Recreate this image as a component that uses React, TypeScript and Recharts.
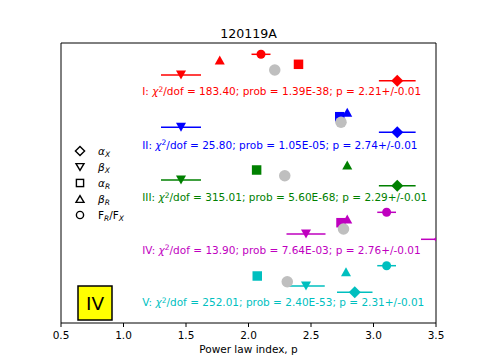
import { ComposedChart, ErrorBar, ReferenceArea, Scatter, XAxis, YAxis } from "recharts";

// fit groups, drawn top to bottom
const groupNames = ["I", "II", "III", "IV", "V"];
const groupColors = ["#ff0000", "#0000ff", "#008000", "#bf00bf", "#00bfbf"];

// alpha_X (diamonds)
const alphaXValues = [3.19, 3.19, 3.19, 3.53, 2.85];
const alphaXErrors = [0.147, 0.147, 0.147, 0.15, 0.142];
const alphaXRows = [24.23, 19.07, 13.73, 8.37, 3.07];

// beta_X (down triangles)
const betaXValues = [1.46, 1.46, 1.46, 2.46, 2.46];
const betaXErrors = [0.16, 0.16, 0.16, 0.156, 0.15];
const betaXRows = [24.8, 19.57, 14.3, 8.9, 3.7];

// alpha_R (squares)
const alphaRValues = [2.4, 2.73, 2.065, 2.74, 2.07];
const alphaRRows = [25.87, 20.63, 15.3, 10.03, 4.7];

// beta_R (triangles)
const betaRValues = [1.77, 2.79, 2.79, 2.79, 2.78];
const betaRRows = [26.3, 21.07, 15.8, 10.4, 5.13];

// F_R/F_X (circles), missing in II and III
const ratioValues = [2.1, null, null, 3.105, 3.105];
const ratioErrors = [0.076, null, null, 0.075, 0.075];
const ratioRows = [26.87, null, null, 11.07, 5.73];

// best-fit p (grey circles)
const fitValues = [2.21, 2.74, 2.29, 2.76, 2.31];
const fitRows = [25.3, 20.07, 14.73, 9.4, 4.13];

// annotation text per group
const chiValues = ["183.40", "25.80", "315.01", "13.90", "252.01"];
const probValues = ["1.39E-38", "1.05E-05", "5.60E-68", "7.64E-03", "2.40E-53"];
const pFitLabels = ["2.21", "2.74", "2.29", "2.76", "2.31"];
const pErrLabels = ["0.01", "0.01", "0.01", "0.01", "0.01"];
const labelRows = [23.13, 17.8, 12.57, 7.3, 2.03];
const labelStart = 1.15;

const xTicks = [0.5, 1.0, 1.5, 2.0, 2.5, 3.0, 3.5];
const X_MIN = 0.5;
const X_MAX = 3.5;

const FONT = "DejaVu Sans, sans-serif";

// error bars are not clipped by the plot area, so cut them at the axis limits
const clipErr = (x: number, e: number) => [Math.min(e, x - X_MIN), Math.min(e, X_MAX - x)];

type MarkerKind = "diamond" | "down" | "square" | "up" | "circle" | "fit";

function markerPath(kind: MarkerKind, cx: number, cy: number, s: number) {
  const h = s / 2;
  if (kind === "diamond") return `M${cx},${cy - h}L${cx + h},${cy}L${cx},${cy + h}L${cx - h},${cy}Z`;
  if (kind === "down") return `M${cx - h},${cy - h * 0.9}L${cx + h},${cy - h * 0.9}L${cx},${cy + h * 0.9}Z`;
  if (kind === "up") return `M${cx - h},${cy + h * 0.9}L${cx + h},${cy + h * 0.9}L${cx},${cy - h * 0.9}Z`;
  return `M${cx - h},${cy - h}h${s}v${s}h${-s}Z`;
}

const markerSize: Record<MarkerKind, number> = {
  diamond: 12,
  down: 10,
  square: 9.5,
  up: 10,
  circle: 9,
  fit: 11.5
};

function Marker({ kind, cx, cy, color }: { kind: MarkerKind; cx?: number; cy?: number; color: string }) {
  if (cx == null || cy == null) return null;
  const s = markerSize[kind];
  if (kind === "circle" || kind === "fit") {
    return <circle cx={cx} cy={cy} r={s / 2} fill={color} />;
  }
  return <path d={markerPath(kind, cx, cy, s)} fill={color} />;
}

function FitLabel(props: any) {
  const { cx, cy, payload } = props;
  if (cx == null || cy == null) return null;
  return (
    <text x={cx} y={cy} dy="0.36em" fill={payload.color} fontSize={10.5} fontFamily={FONT}>
      <tspan>{payload.name}: </tspan>
      <tspan fontStyle="italic">χ</tspan>
      <tspan fontSize={7.5} dy="-0.45em">2</tspan>
      <tspan dy="0.32em">
        /dof = {payload.chi}; prob = {payload.prob}; p = {payload.p}+/-{payload.err}
      </tspan>
    </text>
  );
}

function buildSeries() {
  const out: any[] = [];
  groupNames.forEach((name, i) => {
    const color = groupColors[i];
    out.push(
      <Scatter
        key={`ax-${name}`}
        data={[{ x: alphaXValues[i], y: alphaXRows[i], e: clipErr(alphaXValues[i], alphaXErrors[i]) }]}
        dataKey="y"
        isAnimationActive={false}
        shape={(p: any) => <Marker kind="diamond" cx={p.cx} cy={p.cy} color={color} />}
      >
        <ErrorBar dataKey="e" direction="x" width={0} stroke={color} strokeWidth={1.5} />
      </Scatter>
    );
    out.push(
      <Scatter
        key={`bx-${name}`}
        data={[{ x: betaXValues[i], y: betaXRows[i], e: clipErr(betaXValues[i], betaXErrors[i]) }]}
        dataKey="y"
        isAnimationActive={false}
        shape={(p: any) => <Marker kind="down" cx={p.cx} cy={p.cy} color={color} />}
      >
        <ErrorBar dataKey="e" direction="x" width={0} stroke={color} strokeWidth={1.5} />
      </Scatter>
    );
    out.push(
      <Scatter
        key={`ar-${name}`}
        data={[{ x: alphaRValues[i], y: alphaRRows[i] }]}
        dataKey="y"
        isAnimationActive={false}
        shape={(p: any) => <Marker kind="square" cx={p.cx} cy={p.cy} color={color} />}
      />
    );
    out.push(
      <Scatter
        key={`br-${name}`}
        data={[{ x: betaRValues[i], y: betaRRows[i] }]}
        dataKey="y"
        isAnimationActive={false}
        shape={(p: any) => <Marker kind="up" cx={p.cx} cy={p.cy} color={color} />}
      />
    );
    const rx = ratioValues[i];
    const re = ratioErrors[i];
    if (rx != null && re != null) {
      out.push(
        <Scatter
          key={`rt-${name}`}
          data={[{ x: rx, y: ratioRows[i], e: clipErr(rx, re) }]}
          dataKey="y"
          isAnimationActive={false}
          shape={(p: any) => <Marker kind="circle" cx={p.cx} cy={p.cy} color={color} />}
        >
          <ErrorBar dataKey="e" direction="x" width={0} stroke={color} strokeWidth={1.5} />
        </Scatter>
      );
    }
    out.push(
      <Scatter
        key={`fit-${name}`}
        data={[{ x: fitValues[i], y: fitRows[i] }]}
        dataKey="y"
        isAnimationActive={false}
        shape={(p: any) => <Marker kind="fit" cx={p.cx} cy={p.cy} color="#bfbfbf" />}
      />
    );
    out.push(
      <Scatter
        key={`lbl-${name}`}
        data={[
          {
            x: labelStart,
            y: labelRows[i],
            name,
            color,
            chi: chiValues[i],
            prob: probValues[i],
            p: pFitLabels[i],
            err: pErrLabels[i]
          }
        ]}
        dataKey="y"
        isAnimationActive={false}
        shape={FitLabel}
      />
    );
  });
  return out;
}

const legendRows = [
  { kind: "diamond", sym: "α", sub: "X", italic: true },
  { kind: "down", sym: "β", sub: "X", italic: true },
  { kind: "square", sym: "α", sub: "R", italic: true },
  { kind: "up", sym: "β", sub: "R", italic: true },
  { kind: "circle", sym: "F", sub: "R", italic: false }
];

function LegendMarker({ kind, cx, cy }: { kind: string; cx: number; cy: number }) {
  const props = { fill: "none", stroke: "#000", strokeWidth: 1.4 };
  if (kind === "circle") return <circle cx={cx} cy={cy} r={3.6} {...props} />;
  if (kind === "diamond") return <path d={`M${cx},${cy - 4.6}L${cx + 4.6},${cy}L${cx},${cy + 4.6}L${cx - 4.6},${cy}Z`} {...props} />;
  if (kind === "down") return <path d={`M${cx - 4},${cy - 3.4}L${cx + 4},${cy - 3.4}L${cx},${cy + 3.4}Z`} {...props} />;
  if (kind === "up") return <path d={`M${cx - 4},${cy + 3.4}L${cx + 4},${cy + 3.4}L${cx},${cy - 3.4}Z`} {...props} />;
  return <rect x={cx - 3.6} y={cy - 3.6} width={7.2} height={7.2} {...props} />;
}

function Overlay() {
  const rowY = [151, 167, 183, 199, 215];
  return (
    <svg
      width={485}
      height={364}
      style={{ position: "absolute", left: 0, top: 0, pointerEvents: "none" }}
      fontFamily={FONT}
    >
      <text x={248.5} y={37.5} textAnchor="middle" fontSize={12.6} fill="#000">
        120119A
      </text>
      {legendRows.map((r, i) => (
        <g key={r.sym + r.sub}>
          <LegendMarker kind={r.kind} cx={80} cy={rowY[i]} />
          <text x={98} y={rowY[i] + 3.5} fontSize={10.5} fill="#000">
            <tspan fontStyle={r.italic ? "italic" : "normal"}>{r.sym}</tspan>
            <tspan fontSize={7.5} dy={2.5} fontStyle="italic">{r.sub}</tspan>
            {r.italic ? null : (
              <>
                <tspan dy={-2.5}>/F</tspan>
                <tspan fontSize={7.5} dy={2.5} fontStyle="italic">X</tspan>
              </>
            )}
          </text>
        </g>
      ))}
      <rect x={78} y={286} width={34} height={34} fill="#ffff00" stroke="#000" strokeWidth={1.5} />
      <text x={95} y={309.5} textAnchor="middle" fontSize={18.5} fill="#000">
        IV
      </text>
    </svg>
  );
}

export default function App() {
  return (
    <div style={{ position: "absolute", left: 0, top: 0, width: 485, height: 364, background: "#fff" }}>
      <ComposedChart width={485} height={364} margin={{ top: 43, right: 49, bottom: 9, left: 61 }}>
        <XAxis
          dataKey="x"
          type="number"
          domain={[X_MIN, X_MAX]}
          ticks={xTicks}
          allowDataOverflow
          axisLine={false}
          tickSize={4}
          tickMargin={5}
          tickLine={{ stroke: "#000" }}
          tick={{ fill: "#000", fontSize: 10.5, fontFamily: FONT }}
          tickFormatter={(v: number) => v.toFixed(1)}
          height={32}
          label={{
            value: "Power law index, p",
            position: "insideBottom",
            offset: 2,
            fill: "#000",
            fontSize: 10.5,
            fontFamily: FONT
          }}
        />
        <YAxis dataKey="y" type="number" domain={[0, 28]} hide allowDataOverflow />
        <ReferenceArea x1={X_MIN} x2={X_MAX} y1={0} y2={28} fill="none" stroke="#000" strokeWidth={1} strokeOpacity={1} />
        {buildSeries()}
      </ComposedChart>
      <Overlay />
    </div>
  );
}
